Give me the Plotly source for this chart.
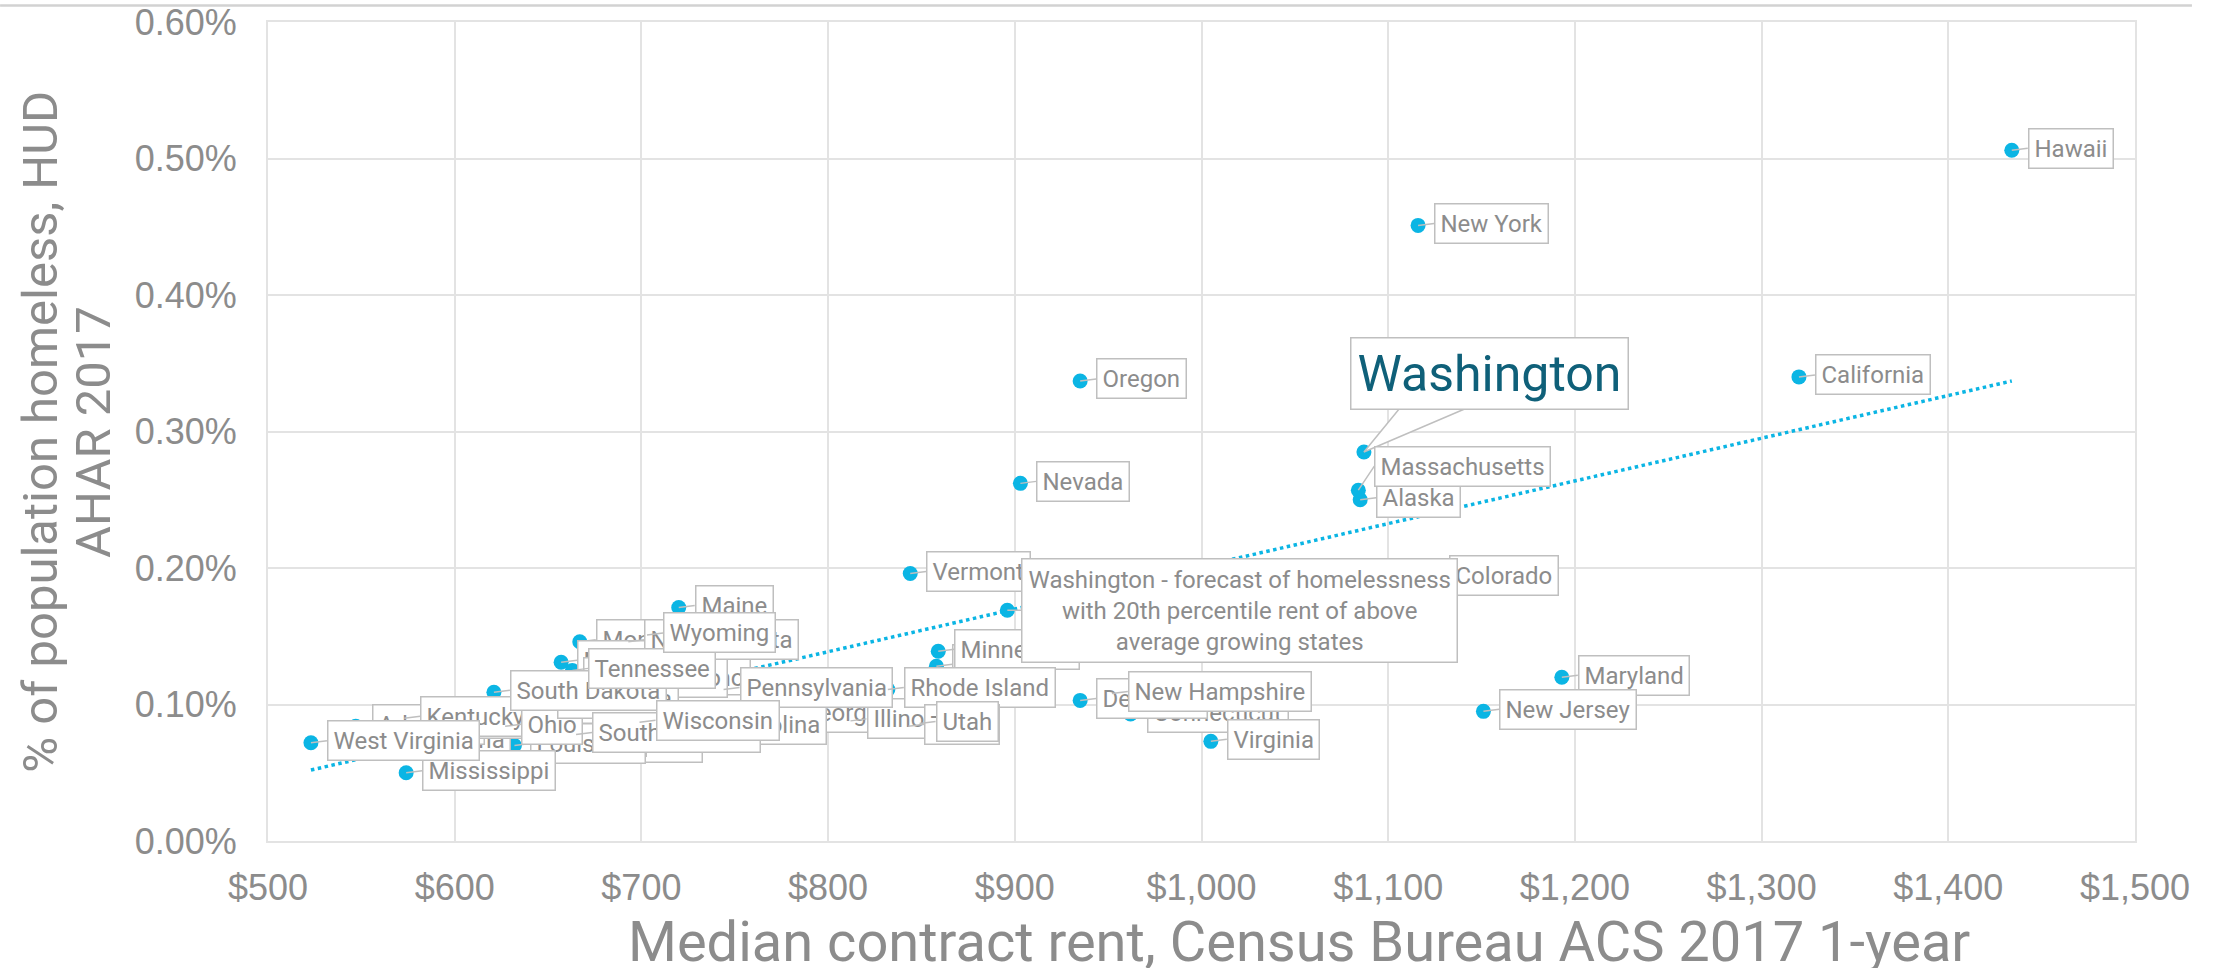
import plotly.graph_objects as go

# ---------------- data ----------------
states = [
    "Alabama", "Alaska", "Arizona", "Arkansas", "California", "Colorado",
    "Connecticut", "Delaware", "Florida", "Georgia", "Hawaii", "Idaho",
    "Illinois", "Indiana", "Iowa", "Kansas", "Kentucky", "Louisiana", "Maine",
    "Maryland", "Massachusetts", "Michigan", "Minnesota", "Mississippi",
    "Missouri", "Montana", "Nebraska", "Nevada", "New Hampshire", "New Jersey",
    "New Mexico", "New York", "North Carolina", "North Dakota", "Ohio",
    "Oklahoma", "Oregon", "Pennsylvania", "Rhode Island", "South Carolina",
    "South Dakota", "Tennessee", "Texas", "Utah", "Vermont", "Virginia",
    "Washington", "West Virginia", "Wisconsin", "Wyoming",
]
median_rent = [
    564, 1085, 858, 547, 1320, 1124,
    962, 935, 990, 774, 1434, 711,
    812, 675, 600, 645, 573, 632, 720,
    1193, 1084, 700, 859, 574,
    639, 667, 657, 903, 952, 1151,
    660, 1116, 701, 693, 627,
    646, 935, 744, 832, 665,
    621, 663, 843, 849, 844, 1005,
    1087, 523, 699, 703,
]
pct_homeless = [
    0.073, 0.250, 0.128, 0.084, 0.340, 0.193,
    0.093, 0.103, 0.153, 0.093, 0.506, 0.118,
    0.088, 0.071, 0.088, 0.075, 0.090, 0.070, 0.171,
    0.120, 0.257, 0.091, 0.139, 0.050,
    0.099, 0.146, 0.131, 0.262, 0.108, 0.095,
    0.118, 0.451, 0.084, 0.146, 0.084,
    0.103, 0.337, 0.111, 0.111, 0.078,
    0.109, 0.125, 0.084, 0.086, 0.196, 0.073,
    0.285, 0.072, 0.087, 0.151,
]

forecast_label = ("Washington - forecast of homelessness<br>"
                  "with 20th percentile rent of above<br>average growing states")
forecast_rent = [896]
forecast_pct = [0.169]

trend_rent = [523, 1434]
trend_pct = [0.052, 0.337]

x_ticks = [500, 600, 700, 800, 900, 1000, 1100, 1200, 1300, 1400, 1500]
x_tick_labels = ["$500", "$600", "$700", "$800", "$900", "$1,000", "$1,100",
                 "$1,200", "$1,300", "$1,400", "$1,500"]
y_ticks = [0.0, 0.1, 0.2, 0.3, 0.4, 0.5, 0.6]
y_tick_labels = ["0.00%", "0.10%", "0.20%", "0.30%", "0.40%", "0.50%", "0.60%"]

x_title = "Median contract rent, Census Bureau ACS 2017 1-year"
y_title_lines = ["% of population homeless, HUD", "AHAR 2017"]

# ---------------- styles ----------------
CYAN = "#0BB5E4"
GRAY_TXT = "#8C8C8C"
BOX = "#BFBFBF"
GRID = "#E3E3E3"
TEAL = "#0F6079"
FONT = "Roboto"
TICK_FONT = "Liberation Sans, Arial, sans-serif"

W, H = 2223, 968
M = dict(l=268, r=88, t=22, b=127)
X_RANGE = [500, 1500]
Y_RANGE = [0, 0.6]
px_x = (X_RANGE[1] - X_RANGE[0]) / (W - M["l"] - M["r"])
px_y = (Y_RANGE[1] - Y_RANGE[0]) / (H - M["t"] - M["b"])

WA_AX, WA_AY = 126, -78
label_style = {
    "Washington": dict(ax=WA_AX, ay=WA_AY, xanchor="center",
                       arrowcolor="rgba(0,0,0,0)",
                       font=dict(family=FONT, size=50, color=TEAL), borderpad=6),
    "Massachusetts": dict(ax=16, ay=-24),
}

fig = go.Figure()

fig.add_trace(go.Scatter(
    x=trend_rent, y=trend_pct, mode="lines",
    line=dict(color=CYAN, width=3.5, dash="dot"),
    hoverinfo="skip", showlegend=False,
))
fig.add_trace(go.Scatter(
    x=median_rent, y=pct_homeless, mode="markers", text=states,
    marker=dict(color=CYAN, size=15), showlegend=False,
))
fig.add_trace(go.Scatter(
    x=forecast_rent, y=forecast_pct, mode="markers",
    marker=dict(color=CYAN, size=15), showlegend=False,
))

annotations = []
for name, xv, yv in zip(states, median_rent, pct_homeless):
    a = dict(
        x=xv, y=yv, xref="x", yref="y", text=name,
        showarrow=True, arrowhead=0, arrowwidth=1.5, arrowcolor=BOX,
        ax=16, ay=-2, xanchor="left", yanchor="middle",
        bgcolor="white", bordercolor=BOX, borderwidth=1.5, borderpad=5,
        font=dict(family=FONT, size=24, color=GRAY_TXT), standoff=0,
    )
    a.update(label_style.get(name, {}))
    annotations.append(a)

annotations.append(dict(
    x=forecast_rent[0], y=forecast_pct[0], xref="x", yref="y",
    text=forecast_label, align="center",
    showarrow=True, arrowhead=0, arrowwidth=1.5, arrowcolor=BOX,
    ax=14, ay=0, xanchor="left", yanchor="middle",
    bgcolor="white", bordercolor=BOX, borderwidth=1.5, borderpad=6,
    font=dict(family=FONT, size=24, color=GRAY_TXT), standoff=0,
))

annotations.append(dict(
    x=0.552, y=-0.123, xref="paper", yref="paper", text=x_title,
    showarrow=False, xanchor="center", yanchor="middle",
    font=dict(family=FONT, size=56, color=GRAY_TXT),
))
annotations.append(dict(
    x=-0.122, y=0.5, xref="paper", yref="paper", text=y_title_lines[0],
    showarrow=False, textangle=-90, xanchor="center", yanchor="middle",
    font=dict(family=FONT, size=49, color=GRAY_TXT),
))
annotations.append(dict(
    x=-0.0935, y=0.5, xref="paper", yref="paper", text=y_title_lines[1],
    showarrow=False, textangle=-90, xanchor="center", yanchor="middle",
    font=dict(family=FONT, size=49, color=GRAY_TXT),
))

# callout wedge for the highlighted Washington label (point -> box bottom)
wi = states.index("Washington")
wx, wy = median_rent[wi], pct_homeless[wi]
base_dy = 44 * px_y
wedge = (f"M {wx},{wy} "
         f"L {wx + 36 * px_x},{wy + base_dy} "
         f"L {wx + 103 * px_x},{wy + base_dy} Z")

fig.update_layout(
    width=W, height=H,
    margin=dict(**M, autoexpand=False),
    paper_bgcolor="white", plot_bgcolor="white",
    font=dict(family=FONT, color=GRAY_TXT),
    annotations=annotations,
    shapes=[
        dict(type="line", xref="paper", yref="paper",
             x0=-0.1435, x1=1.0305, y0=1.0201, y1=1.0201,
             line=dict(color="#D2D2D2", width=2.5)),
        dict(type="path", xref="x", yref="y", path=wedge, layer="above",
             fillcolor="white", line=dict(color=BOX, width=1.5)),
    ],
    showlegend=False,
)
fig.update_xaxes(
    range=X_RANGE, tickvals=x_ticks, ticktext=x_tick_labels,
    automargin=False,
    showgrid=True, gridcolor=GRID, gridwidth=2,
    showline=True, linecolor=GRID, linewidth=2, mirror=True,
    zeroline=False, ticks="", ticklabelstandoff=14,
    tickfont=dict(family=TICK_FONT, size=36, color=GRAY_TXT),
)
fig.update_yaxes(
    range=Y_RANGE, tickvals=y_ticks, ticktext=y_tick_labels,
    automargin=False,
    showgrid=True, gridcolor=GRID, gridwidth=2,
    showline=True, linecolor=GRID, linewidth=2, mirror=True,
    zeroline=False, ticks="", ticklabelstandoff=22,
    tickfont=dict(family=TICK_FONT, size=36, color=GRAY_TXT),
)

fig.write_html("out.html", config={"displayModeBar": False},
               post_script="document.body.style.margin='0';")
